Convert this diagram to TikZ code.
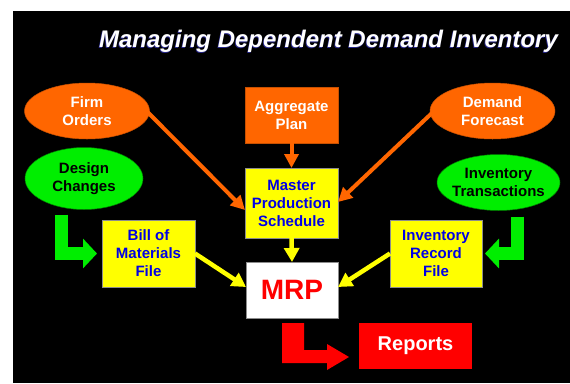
\documentclass[tikz,border=0pt]{standalone}
\usepackage{fontspec}
\setmainfont{Liberation Sans}
\usetikzlibrary{arrows.meta,shapes.geometric,calc}
\definecolor{orng}{RGB}{255,102,0}
\definecolor{orngedge}{RGB}{200,80,0}
\definecolor{grn}{RGB}{0,238,0}
\definecolor{ylw}{RGB}{255,255,0}
\definecolor{txtblue}{RGB}{0,0,230}
\definecolor{rd}{RGB}{255,0,0}
\definecolor{shadowblue}{RGB}{40,40,140}
\begin{document}
\begin{tikzpicture}[x=1pt,y=-1pt,
  every node/.style={inner sep=0pt, outer sep=0pt, align=center},
  txt/.style={font=\fontsize{15}{18}\selectfont\bfseries},
  ell/.style={ellipse, draw=orngedge, line width=0.5pt},
  oell/.style={ell, fill=orng},
  gell/.style={ell, fill=grn, draw=green!50!black},
  ybox/.style={rectangle, fill=ylw, draw=black!45, line width=0.6pt, text=txtblue, txt},
  obox/.style={rectangle, fill=orng, draw=orngedge, line width=0.6pt, text=white, txt},
  oarr/.style={draw=orng, line width=4pt, -{Triangle[length=14pt,width=14pt]}},
  yarr/.style={draw=ylw, line width=4.5pt, -{Triangle[length=14pt,width=15pt]}},
  garr/.style={draw=grn, line width=13pt, line join=miter, -{Triangle[length=14pt,width=29pt]}},
  ttl/.style={font=\fontsize{24}{28}\selectfont\bfseries\itshape}
]
\useasboundingbox (0,0) rectangle (570,383);
\fill[white] (0,0) rectangle (570,383);
\fill[black] (13,11) rectangle (570,383);

% title
\node[ttl, text=shadowblue] (titleshadow) at (327.8,41.8) {Managing Dependent Demand Inventory};
\node[ttl, text=white] (title) at (328.5,41) {Managing Dependent Demand Inventory};

% ellipses
\node[oell, minimum width=125pt, minimum height=56pt] (fo) at (87,111) {};
\node[txt, text=white] (fot) at (fo) {Firm\\Orders};
\node[oell, minimum width=125pt, minimum height=56pt] (df) at (492.5,111) {};
\node[txt, text=white] (dft) at (df) {Demand\\Forecast};
\node[gell, minimum width=118pt, minimum height=62pt] (dc) at (84,178.5) {};
\node[txt, text=black] (dct) at (dc) {Design\\Changes};
\node[gell, minimum width=123pt, minimum height=56pt] (it) at (498.5,182.5) {};
\node[txt, text=black] (itt) at (it) {Inventory\\Transactions};

% boxes
\node[obox, minimum width=93pt, minimum height=56pt] (ap) at (291.5,115) {Aggregate\\Plan};
\node[ybox, minimum width=93pt, minimum height=70pt] (mps) at (291.5,203) {Master\\Production\\Schedule};
\node[ybox, minimum width=93pt, minimum height=67pt] (bom) at (148.5,253.5) {Bill of\\Materials\\File};
\node[ybox, minimum width=92pt, minimum height=67pt] (irf) at (436,253.5) {Inventory\\Record\\File};
\node[rectangle, fill=white, draw=black!45, line width=0.6pt, minimum width=92pt, minimum height=56pt,
      text=rd, font=\fontsize{28}{32}\selectfont\bfseries] (mrp) at (292,290) {MRP};
\node[rectangle, fill=rd, minimum width=113pt, minimum height=46pt,
      text=white, font=\fontsize{20}{24}\selectfont\bfseries] (rep) at (415.5,346) {Reports};

% orange arrows
\draw[oarr] ($(fo.east)+(-2,1)$) -- ($(mps.west)+(0,7)$);
\draw[oarr] ($(df.west)+(2,2)$) -- ($(mps.east)+(0,-1)$);
\draw[oarr] (ap.south) -- (mps.north);

% yellow arrows
\draw[yarr] (mps.south) -- (mrp.north);
\draw[yarr] (bom.east) -- ($(mrp.west)+(0,-3)$);
\draw[yarr] (irf.west) -- ($(mrp.east)+(0,-3)$);

% green bent arrows
\draw[garr, shorten >=5pt] ($(dc.south)+(-22.5,5)$) |- (bom.west);
\draw[garr, shorten >=3pt] ($(it.south)+(19,6)$) |- (irf.east);

% red bent arrow
\fill[rd] ($(mrp.south)+(-10,5)$) -- ++(22,0) -- ++(0,27) -- ++(23,0) -- ++(0,-6)
  -- ++(22,13) -- ++(-22,13) -- ++(0,-7) -- ++(-45,0) -- cycle;
\end{tikzpicture}
\end{document}
